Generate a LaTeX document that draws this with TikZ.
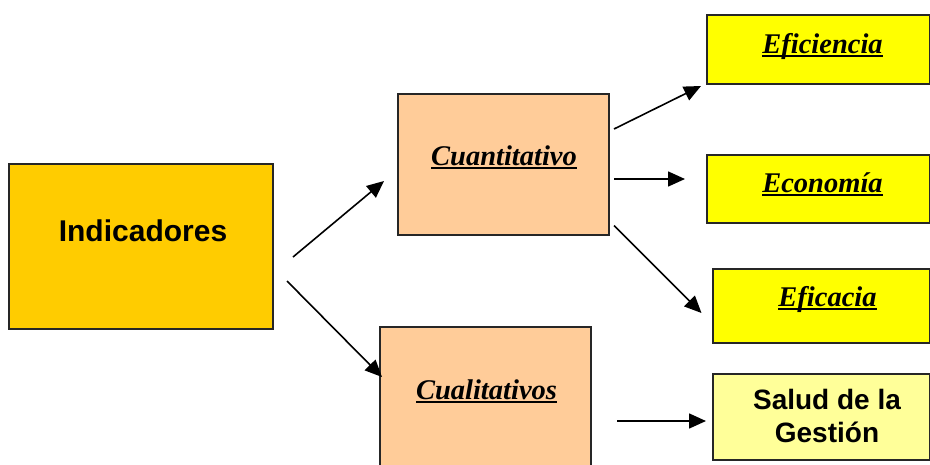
\documentclass[tikz,border=0pt]{standalone}
\usepackage{fontspec}
\setmainfont{Liberation Serif}
\setsansfont{Liberation Sans}
\usetikzlibrary{arrows.meta}
% thick underline for the italic headings
\newcommand{\ulword}[1]{\setbox0=\hbox{#1}\leavevmode\rlap{\rule[-3.8pt]{\wd0}{2.3pt}}\box0}
\definecolor{gold}{HTML}{FFCC00}
\definecolor{peach}{HTML}{FFCC99}
\definecolor{brightyellow}{HTML}{FFFF00}
\definecolor{paleyellow}{HTML}{FFFF99}
\begin{document}
\begin{tikzpicture}[x=1pt,y=-1pt,
  box/.style={draw=black!85,line width=1.6pt,inner sep=0pt,rectangle},
  seriflbl/.style={anchor=base,inner sep=0pt,font=\fontsize{28.5}{31}\selectfont\bfseries\itshape},
  sanslbl/.style={anchor=base,inner sep=0pt,font=\fontsize{28}{33}\selectfont\sffamily\bfseries},
  link/.style={line width=1.6pt,-{Triangle[length=17pt,width=15pt]}}]
\useasboundingbox (0,0) rectangle (930,464);
\clip (0,0) rectangle (930,464);
% boxes
\node[box,fill=gold,minimum width=264,minimum height=165] (ind) at (141,246.5) {};
\node[box,fill=peach,minimum width=211,minimum height=141] (cuant) at (503.5,164.5) {};
\node[box,fill=peach,minimum width=211,minimum height=153] (cual) at (485.5,403.5) {};
\node[box,fill=brightyellow,minimum width=223,minimum height=69] (efi) at (818.5,49.5) {};
\node[box,fill=brightyellow,minimum width=223,minimum height=68] (eco) at (818.5,189) {};
\node[box,fill=brightyellow,minimum width=217,minimum height=74] (efa) at (821.5,306) {};
\node[box,fill=paleyellow,minimum width=217,minimum height=86] (sal) at (821.5,417) {};
% labels
\node[sanslbl,font=\fontsize{30}{33}\selectfont\sffamily\bfseries] (indt) at (143,241) {Indicadores};
\node[seriflbl] (cuantt) at (504,165) {\ulword{Cuantitativo}};
\node[seriflbl] (cualt) at (486.5,399) {\ulword{Cualitativos}};
\node[seriflbl] (efit) at (822.5,53) {\ulword{Eficiencia}};
\node[seriflbl] (ecot) at (822.5,192.5) {\ulword{Economía}};
\node[seriflbl] (efat) at (827.5,306.5) {\ulword{Eficacia}};
\node[sanslbl] (salt1) at (827,409) {Salud de la};
\node[sanslbl] (salt2) at (827,442) {Gestión};
% connector end points
\coordinate (s1) at (293,257); \coordinate (e1) at (384,181);
\coordinate (s2) at (287,281); \coordinate (e2) at (382,377);
\coordinate (s3) at (614,129); \coordinate (e3) at (701,86);
\coordinate (s4) at (614,179); \coordinate (e4) at (685,179);
\coordinate (s5) at (614,225.5); \coordinate (e5) at (701.5,313);
\coordinate (s6) at (617,421); \coordinate (e6) at (706,421);
% connectors
\draw[link] (s1) -- (e1);
\draw[link] (s2) -- (e2);
\draw[link] (s3) -- (e3);
\draw[link] (s4) -- (e4);
\draw[link] (s5) -- (e5);
\draw[link] (s6) -- (e6);
\end{tikzpicture}
\end{document}
